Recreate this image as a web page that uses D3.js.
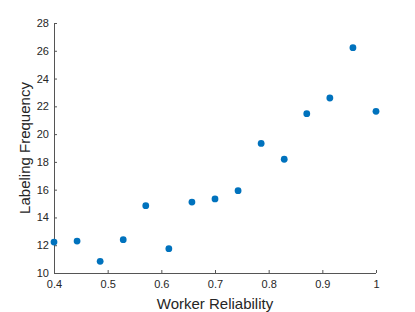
<!DOCTYPE html>
<html lang="en">
<head>
<meta charset="UTF-8">
<title>Labeling Frequency vs Worker Reliability</title>
<style>
* { margin: 0; padding: 0; box-sizing: border-box; }
body { background: #fff; font-family: "Liberation Sans", Arial, sans-serif; overflow: hidden; }
svg { display: block; }
.axis path, .axis line { stroke: #555; }
.axis text { fill: #262626; font-size: 11px; font-family: "Liberation Sans", Arial, sans-serif; }
.label { fill: #262626; font-size: 15px; text-anchor: middle; }
</style>
</head>
<body>
<div id="chart"></div>
<script src="https://d3js.org/d3.v7.min.js"></script>
<script>
// Worker reliability vs labeling frequency
var reliability = [0.400, 0.443, 0.486, 0.529, 0.571, 0.614, 0.657, 0.700, 0.743, 0.786, 0.829, 0.871, 0.914, 0.957, 1.000];
var frequency = [12.23, 12.30, 10.84, 12.40, 14.85, 11.75, 15.11, 15.33, 15.93, 19.33, 18.19, 21.47, 22.60, 26.22, 21.64];
var xTicks = [0.4, 0.5, 0.6, 0.7, 0.8, 0.9, 1];
var yTicks = [10, 12, 14, 16, 18, 20, 22, 24, 26, 28];

var width = 415, height = 312;
var margin = { left: 54, right: 39, top: 23, bottom: 39 };

var svg = d3.select("#chart").append("svg")
	.attr("width", width)
	.attr("height", height);

var x = d3.scaleLinear().domain([0.4, 1]).range([margin.left, width - margin.right]);
var y = d3.scaleLinear().domain([10, 28]).range([height - margin.bottom, margin.top]);

var xAxis = svg.append("g")
	.attr("class", "axis")
	.attr("transform", "translate(0," + (height - margin.bottom) + ")")
	.call(d3.axisBottom(x).tickValues(xTicks).tickSize(-3).tickPadding(7)
		.tickFormat(function(d) { return d === 1 ? "1" : d3.format(".1f")(d); }));
xAxis.select(".domain").attr("d", "M" + x(0.4) + ",0.5H" + x(1));

var yAxis = svg.append("g")
	.attr("class", "axis")
	.attr("transform", "translate(" + margin.left + ",0)")
	.call(d3.axisLeft(y).tickValues(yTicks).tickSize(-3).tickPadding(5));
yAxis.select(".domain").attr("d", "M0.5," + y(28) + "V" + y(10));

svg.append("text")
	.attr("class", "label")
	.attr("x", (x(0.4) + x(1)) / 2)
	.attr("y", 309)
	.text("Worker Reliability");

svg.append("text")
	.attr("class", "label")
	.attr("transform", "translate(30," + ((y(10) + y(28)) / 2) + ") rotate(-90)")
	.text("Labeling Frequency");

svg.append("g").selectAll("circle")
	.data(reliability.map(function(r, i) { return [r, frequency[i]]; }))
	.join("circle")
	.attr("cx", function(d) { return x(d[0]); })
	.attr("cy", function(d) { return y(d[1]); })
	.attr("r", 3.4)
	.attr("fill", "#0072BD");
</script>
</body>
</html>
